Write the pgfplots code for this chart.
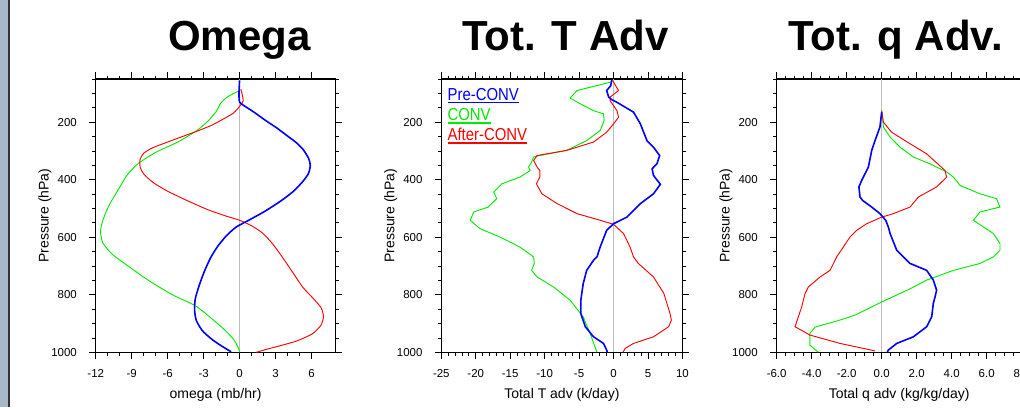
\documentclass[border=0pt]{standalone}
\usepackage{fontspec}
\setmainfont{Liberation Sans}
\newfontfamily\condensed[FakeStretch=0.86]{Liberation Sans}
\usepackage{pgfplots}
\pgfplotsset{compat=1.18}
\definecolor{Strip}{RGB}{168,184,200}
\definecolor{ZeroLine}{RGB}{190,190,190}
\definecolor{NclBlue}{RGB}{0,0,255}
\definecolor{NclGreen}{RGB}{0,235,0}
\definecolor{NclRed}{RGB}{255,0,0}
% underline in the current colour, a bit heavier than \underline
\newcommand\legul[1]{\setbox0\hbox{#1}\rlap{\rule[-2.2pt]{\wd0}{0.9pt}}\box0}
% one image px = 0.75pt
\pgfplotsset{
  prof/.style={
    scale only axis, height=205pt,
    ymin=50, ymax=1000, y dir=reverse,
    ytick={200,400,600,800,1000},
    minor ytick={50,100,...,1000},
    tick align=outside,
    major tick length=5pt, minor tick length=2.5pt,
    every tick/.style={black, line width=0.6pt},
    axis line style={line width=0.9pt},
    tick label style={font=\fontsize{8.6}{10}\selectfont},
    label style={font=\fontsize{10.5}{12}\selectfont},
    /pgf/number format/assume math mode=true,
    /pgf/number format/1000 sep={},
    ylabel={Pressure (hPa)},
    ylabel style={at={([xshift=-38pt]axis description cs:0,0.5)}, anchor=center},
    xlabel style={at={(axis description cs:0.5,0)}, anchor=base, yshift=-34.5pt},
    yticklabel style={inner sep=0pt, xshift=-9pt},
    xticklabel style={inner sep=0pt, yshift=-8pt},
    clip=true,
  },
  zero/.style={ZeroLine, line width=0.7pt},
  pre/.style={NclBlue, line width=1.2pt},
  conv/.style={NclGreen, line width=0.7pt},
  after/.style={NclRed, line width=0.7pt},
}
\tikzset{leg/.style={anchor=base west, inner sep=0pt, font=\condensed\fontsize{13}{15}\selectfont}}
\begin{document}
\begin{tikzpicture}
\useasboundingbox (0,0) rectangle (765pt,305.25pt);
\clip (0,0) rectangle (765pt,305.25pt);
\fill[Strip] (0,0) rectangle (6.3pt,305.25pt);
\draw[black!80, line width=1.2pt] (6.9pt,0) -- (6.9pt,305.25pt);

\node[anchor=base, font=\fontsize{31.5}{36}\selectfont\bfseries] at (179.6pt,267pt) {Omega};
\node[anchor=base, font=\fontsize{31.5}{36}\selectfont\bfseries] at (424.1pt,267pt) {Tot. T Adv};
\node[anchor=base, font=\fontsize{31.5}{36}\selectfont\bfseries] at (671.6pt,267pt) {Tot. q Adv.};

% Omega
\begin{axis}[prof, at={(71.8pt,41pt)}, anchor=south west, width=179.8pt,
  xmin=-12, xmax=8, xtick={-12,-9,-6,-3,0,3,6}, minor x tick num=2,
  xlabel={omega (mb/hr)}]
\addplot[zero] coordinates {(0,50) (0,1000)};
\addplot[conv, smooth, tension=0.4] coordinates {
 (0,90)(-1.0,112)(-1.6,135)(-1.9,160)(-2.6,195)(-3.6,230)(-5.2,270)(-7.0,305)
 (-8.5,345)(-9.4,385)(-10.2,440)(-10.9,490)(-11.4,540)(-11.6,580)(-11.4,620)
 (-10.6,660)(-9.3,700)(-7.6,750)(-5.6,800)(-3.7,838)(-2.4,880)(-1.3,920)
 (-0.5,955)(-0.1,985)(0,1000)};
\addplot[after, smooth, tension=0.4] coordinates {
 (0.1,85)(0.2,100)(0.3,125)(0.1,140)(-0.5,168)(-1.4,190)(-2.4,212)(-3.6,232)
 (-4.9,252)(-6.2,272)(-7.3,290)(-8.0,308)(-8.3,330)(-8.3,355)(-8.0,380)
 (-7.2,410)(-6.0,440)(-4.4,472)(-2.6,505)(-1.0,528)(0,541)(1.0,560)(1.9,585)
 (2.7,620)(3.5,665)(4.4,720)(5.3,775)(6.2,815)(6.8,845)(7.0,875)(6.8,905)
 (6.1,935)(4.8,960)(3.3,978)(2.2,990)(1.4,1000)};
\addplot[pre, smooth, tension=0.4] coordinates {
 (0,55)(-0.05,100)(0,130)(0.35,142)(1.2,165)(2.1,192)(3.1,220)(3.9,245)
 (4.7,270)(5.3,295)(5.75,325)(5.9,350)(5.75,378)(5.3,405)(4.5,440)(3.4,475)
 (2.1,510)(0.8,540)(-0.3,565)(-1.1,595)(-1.8,630)(-2.4,670)(-2.9,715)
 (-3.35,765)(-3.7,815)(-3.75,855)(-3.6,890)(-3.1,925)(-2.3,955)(-1.5,978)
 (-0.7,998)};
\end{axis}

% Tot. T Adv
\begin{axis}[prof, at={(331pt,41pt)}, anchor=south west, width=180.8pt,
  xmin=-25, xmax=10, xtick={-25,-20,...,10}, minor x tick num=4,
  xlabel={Total T adv (k/day)}]
\addplot[zero] coordinates {(0,50) (0,1000)};
\addplot[conv] coordinates {
 (-0.3,60)(-5.3,90)(-6.3,116)(-4.85,136)(-2.9,160)(-1.45,171)(-1.36,194)
 (-1.94,229)(-3.9,264)(-6.8,298)(-10.7,316)(-11.6,321)(-11.9,339)(-12.35,356)
 (-12.1,368)(-13.6,391)(-16.2,414)(-17.4,443)(-16.96,466)(-18.2,495)
 (-20.3,512)(-20.8,541)(-19.4,570)(-16.5,599)(-13.6,634)(-11.6,668)
 (-11.5,691)(-11.9,715)(-11.1,738)(-8.7,773)(-6.3,819)(-4.4,877)(-3.4,934)
 (-2.4,1000)};
\addplot[after] coordinates {
 (-0.15,55)(0.73,90)(-0.5,113)(-0.5,125)(0.5,160)(0.73,183)(0,206)(-1.0,235)
 (-2.9,269)(-6.8,298)(-11.1,316)(-11.6,333)(-11.1,356)(-10.7,368)(-10.7,391)
 (-11.2,414)(-10.4,449)(-8.2,483)(-5.3,518)(-1.94,541)(0,555)(1.45,587)
 (2.4,634)(2.9,668)(3.6,691)(5.8,738)(7.3,795)(8.2,865)(8.4,888)(8.0,911)
 (5.8,946)(2.9,969)(1.7,986)(1.36,1000)};
\addplot[pre] coordinates {
 (-0.25,52)(-0.4,73)(-1.0,90)(-0.7,113)(-0.25,122)(0.5,131)(2.9,165)(3.9,206)
 (4.85,264)(5.8,287)(6.7,316)(6.3,345)(5.6,362)(5.8,385)(6.8,416)(5.8,449)
 (3.9,483)(1.94,530)(0,553)(-1.0,576)(-1.94,634)(-2.4,668)(-2.9,680)
 (-3.9,715)(-4.4,761)(-4.75,819)(-4.75,865)(-4.1,911)(-2.9,946)(-1.45,969)
 (-1.0,992)(-0.9,1000)};
\node[leg] at (axis description cs:0,1) [xshift=4.5pt, yshift=-15.75pt] {\color{NclBlue}\legul{Pre-CONV}};
\node[leg] at (axis description cs:0,1) [xshift=4.5pt, yshift=-31.3pt] {\color{NclGreen}\legul{CONV}};
\node[leg] at (axis description cs:0,1) [xshift=4.5pt, yshift=-46.3pt] {\color{NclRed}\legul{After-CONV}};
\end{axis}

% Tot. q Adv.
\begin{axis}[prof, at={(582.5pt,41pt)}, anchor=south west, width=183.75pt,
  xmin=-6, xmax=8, xtick={-6,-4,...,8}, minor x tick num=3,
  xticklabel style={/pgf/number format/.cd, fixed, fixed zerofill, precision=1},
  xlabel={Total q adv (kg/kg/day)}]
\addplot[zero] coordinates {(0,50) (0,1000)};
\addplot[conv] coordinates {
 (0,160)(0.1,217)(0.48,252)(1.05,287)(1.81,321)(2.76,345)(3.71,373)
 (4.1,391)(4.48,420)(5.62,449)(6.57,466)(6.76,495)(5.62,512)(5.24,541)
 (5.81,564)(6.38,587)(6.76,622)(6.76,645)(6.38,668)(5.62,691)(4.1,715)
 (2.57,749)(1.6,780)(0,825)(-1.5,870)(-2.5,890)(-3.8,912)(-4.1,934)
 (-4.1,975)(-3.62,1000)};
\addplot[after] coordinates {
 (0,160)(0.1,200)(0.57,235)(1.62,275)(2.57,310)(3.62,368)(3.71,391)
 (3.14,425)(2.1,460)(1.62,495)(0.67,518)(0,530)(-0.86,553)(-1.43,576)
 (-1.81,599)(-2.19,634)(-2.57,668)(-2.95,715)(-3.52,738)(-4.19,773)
 (-4.38,796)(-4.57,842)(-4.95,911)(-4.1,940)(-2.38,969)(-0.38,995)};
\addplot[pre] coordinates {
 (0,165)(-0.1,217)(-0.38,264)(-0.57,298)(-0.76,356)(-1.14,402)
 (-1.3,425)(-1.24,460)(-1.09,472)(-0.57,495)(-0.1,518)(0.23,541)(0.38,564)
 (0.48,587)(0.86,645)(1.62,691)(2.57,715)(2.95,749)(3.14,784)(3.05,807)
 (2.95,830)(2.86,876)(2.57,911)(1.81,946)(0.86,969)(0.38,992)(0.32,1000)};
\end{axis}
\end{tikzpicture}
\end{document}
